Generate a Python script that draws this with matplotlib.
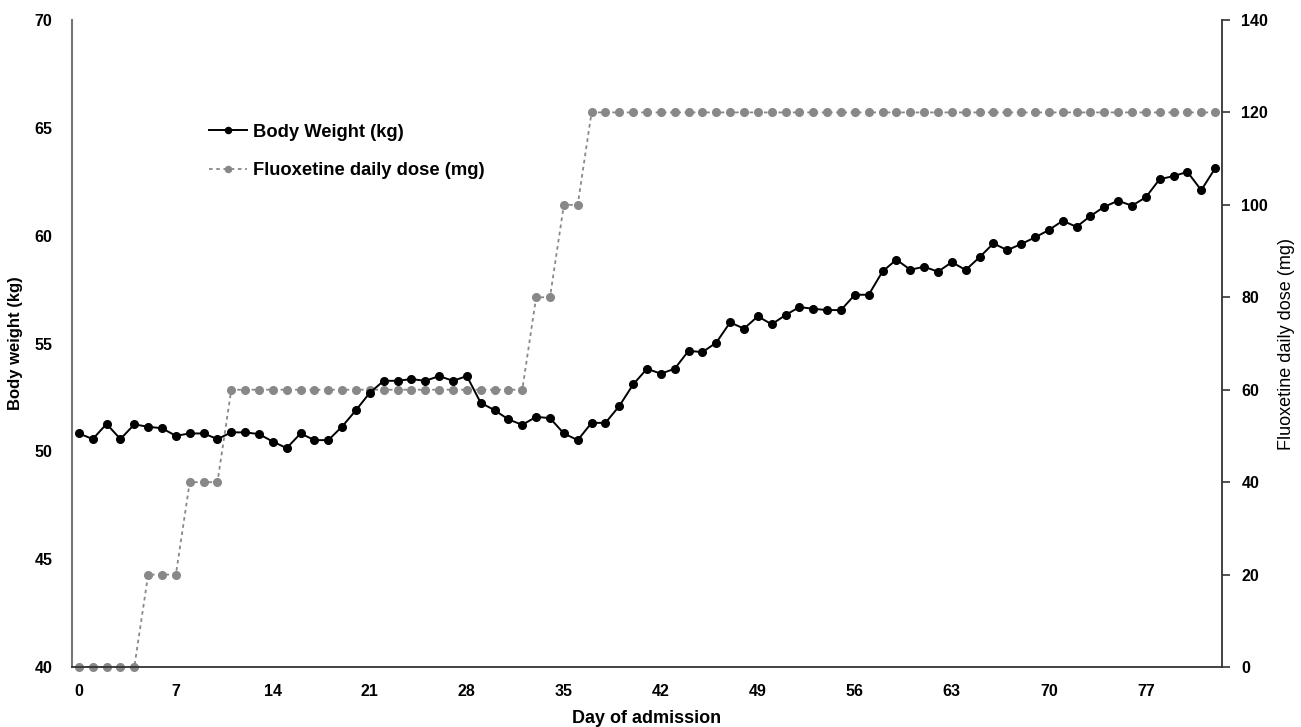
import matplotlib
matplotlib.use("Agg")
import matplotlib.pyplot as plt
import numpy as np

plt.rcParams['font.family'] = ['Liberation Sans', 'DejaVu Sans']

days = list(range(0, 83))
body_weight = [
    50.83, 50.57, 51.27, 50.57, 51.25, 51.14, 51.07, 50.72, 50.83, 50.83,
    50.57, 50.88, 50.88, 50.80, 50.45, 50.15, 50.83, 50.52, 50.52, 51.15,
    51.91, 52.72, 53.27, 53.27, 53.35, 53.27, 53.49, 53.27, 53.49, 52.25,
    51.91, 51.48, 51.23, 51.60, 51.54, 50.83, 50.52, 51.32, 51.32, 52.10,
    53.10, 53.83, 53.60, 53.83, 54.66, 54.60, 55.04, 55.98, 55.69, 56.26,
    55.89, 56.32, 56.69, 56.61, 56.55, 56.55, 57.26, 57.26, 58.34, 58.89,
    58.42, 58.56, 58.33, 58.77, 58.41, 59.00, 59.64, 59.33, 59.61, 59.92,
    60.26, 60.69, 60.41, 60.91, 61.34, 61.62, 61.39, 61.78, 62.62, 62.76,
    62.96, 62.11, 63.12,
]
dose = ([0] * 5 + [20] * 3 + [40] * 3 + [60] * 22 + [80] * 2 + [100] * 2
        + [120] * 46)
xticks = list(range(0, 78, 7))

fig = plt.figure(figsize=(13.01, 7.27), dpi=100)
ax = fig.add_axes([0.0553, 0.0825, 0.884, 0.890])
ax2 = ax.twinx()

ax.set_zorder(2)
ax.patch.set_visible(False)

ln2, = ax2.plot(days, dose, color='#888888', linestyle=(0, (2, 2)), linewidth=1.3,
                marker='o', markersize=5.5, markerfacecolor='#888888',
                markeredgecolor='#888888', label='Fluoxetine daily dose (mg)',
                clip_on=False)
ln1, = ax.plot(days, body_weight, color='black', linewidth=1.4, marker='o',
               markersize=5.5, label='Body Weight (kg)', clip_on=False)

ax.set_xlim(-0.5, 82.5)
ax.set_ylim(40, 70)
ax2.set_ylim(0, 140)
ax.set_yticks(range(40, 71, 5))
ax2.set_yticks(range(0, 141, 20))
ax.set_xticks(xticks)

for a in (ax, ax2):
    a.spines['top'].set_visible(False)
ax.spines['right'].set_visible(False)
ax2.spines['left'].set_visible(False)
ax2.spines['bottom'].set_visible(False)
ax.spines['left'].set_color('#777777')
ax.spines['left'].set_linewidth(1.5)
ax.spines['bottom'].set_color('#333333')
ax.spines['bottom'].set_linewidth(1.3)
ax2.spines['right'].set_color('#333333')
ax2.spines['right'].set_linewidth(1.3)

ax.tick_params(axis='y', length=0, pad=14, labelsize=11.5)
ax.tick_params(axis='x', length=0, pad=12, labelsize=11.5)
ax2.tick_params(axis='y', length=6, width=1.2, color='#333333', pad=8, labelsize=11.5)
for lbl in ax.get_xticklabels() + ax.get_yticklabels() + ax2.get_yticklabels():
    lbl.set_fontweight('bold')

ax.set_xlabel('Day of admission', fontsize=13, fontweight='bold', labelpad=8)
ax.set_ylabel('Body weight (kg)', fontsize=12, fontweight='bold', labelpad=8)
ax2.set_ylabel('Fluoxetine daily dose (mg)', fontsize=13, labelpad=7)

leg = ax.legend(handles=[ln1, ln2], loc='upper left',
                bbox_to_anchor=(0.105, 0.865), frameon=False,
                prop={'weight': 'bold', 'size': 13.2}, handlelength=2.07,
                handletextpad=0.3, labelspacing=1.15, markerscale=0.8)

fig.savefig('out.png', dpi=100)
